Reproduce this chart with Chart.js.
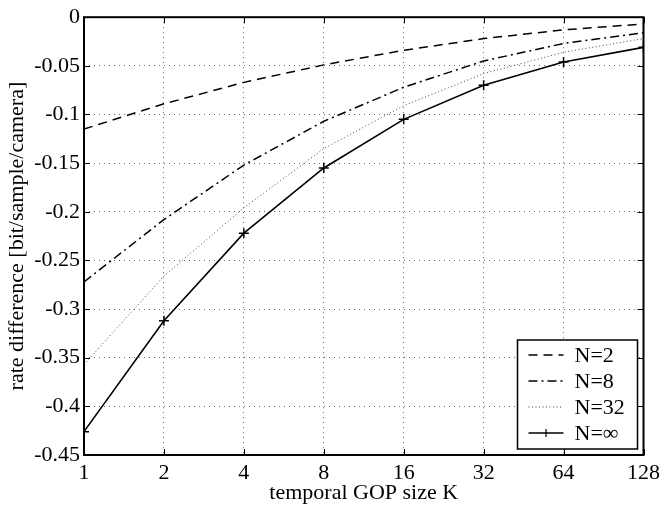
<!DOCTYPE html>
<html>
<head>
<meta charset="utf-8">
<script src="https://cdn.jsdelivr.net/npm/chart.js@4.4.1/dist/chart.umd.min.js"></script>
<style>
  html, body { margin: 0; padding: 0; background: #fff; }
  #wrap { width: 665px; height: 506px; }
</style>
</head>
<body>
<div id="wrap"><canvas id="rateChart" width="665" height="506"></canvas></div>
<script>
// temporal GOP size K
const gopSizes = [1, 2, 4, 8, 16, 32, 64, 128];
const yTicks = [0, -0.05, -0.1, -0.15, -0.2, -0.25, -0.3, -0.35, -0.4, -0.45];

// rate difference per N
const rateN2 = [-0.115, -0.089, -0.067, -0.049, -0.034, -0.022, -0.013, -0.007];
const rateN8 = [-0.272, -0.208, -0.152, -0.107, -0.072, -0.045, -0.027, -0.016];
const rateN32 = [-0.357, -0.266, -0.196, -0.135, -0.091, -0.058, -0.036, -0.022];
const rateNinf = [-0.426, -0.312, -0.222, -0.155, -0.105, -0.070, -0.046, -0.031];

const labels = ['N=2', 'N=8', 'N=32', 'N=\u221e'];
const FONT = '"Liberation Serif", "Times New Roman", serif';

function series(vals) {
    return gopSizes.map(function (k, i) { return { x: k, y: vals[i] }; });
}

// box around plot + inward ticks
const framePlugin = {
    id: 'frame',
    afterDraw(chart) {
        const a = chart.chartArea, ctx = chart.ctx;
        const xs = chart.scales.x, ys = chart.scales.y;
        ctx.save();
        ctx.strokeStyle = '#000';
        ctx.lineWidth = 1;
        gopSizes.forEach(function (k) {
            const px = Math.round(xs.getPixelForValue(k)) + 0.5;
            ctx.beginPath();
            ctx.moveTo(px, a.bottom); ctx.lineTo(px, a.bottom - 6);
            ctx.moveTo(px, a.top); ctx.lineTo(px, a.top + 6);
            ctx.stroke();
        });
        yTicks.forEach(function (v) {
            const py = Math.round(ys.getPixelForValue(v)) + 0.5;
            ctx.beginPath();
            ctx.moveTo(a.left, py); ctx.lineTo(a.left + 6, py);
            ctx.moveTo(a.right, py); ctx.lineTo(a.right - 6, py);
            ctx.stroke();
        });
        ctx.lineWidth = 2;
        ctx.strokeRect(a.left, a.top, a.right - a.left, a.bottom - a.top);
        ctx.restore();
    }
};

// legend box in the lower right corner
const boxLegend = {
    id: 'boxLegend',
    afterDraw(chart) {
        const a = chart.chartArea, ctx = chart.ctx;
        const w = 120, h = 109;
        const x0 = a.right - 6 - w, y0 = a.bottom - 6 - h;
        ctx.save();
        ctx.fillStyle = '#fff';
        ctx.fillRect(x0, y0, w, h);
        ctx.strokeStyle = '#000';
        ctx.lineWidth = 1.5;
        ctx.strokeRect(x0, y0, w, h);
        ctx.font = '22px ' + FONT;
        ctx.textBaseline = 'middle';
        chart.data.datasets.forEach(function (ds, i) {
            const y = y0 + 15 + i * 26;
            ctx.strokeStyle = ds.borderColor;
            ctx.lineWidth = ds.borderWidth;
            ctx.setLineDash(ds.borderDash || []);
            ctx.beginPath();
            ctx.moveTo(x0 + 11, y); ctx.lineTo(x0 + 46, y);
            ctx.stroke();
            ctx.setLineDash([]);
            if (ds.pointRadius > 0) {
                const cx = x0 + 28.5;
                ctx.lineWidth = 1.2;
                ctx.beginPath();
                ctx.moveTo(cx, y - 4); ctx.lineTo(cx, y + 4);
                ctx.stroke();
            }
            ctx.fillStyle = '#000';
            ctx.fillText(ds.label, x0 + 57, y + 1);
        });
        ctx.restore();
    }
};

const ctx = document.getElementById('rateChart').getContext('2d');
new Chart(ctx, {
    type: 'line',
    data: {
        datasets: [
            { label: labels[0], data: series(rateN2), borderColor: '#000', borderWidth: 1.5, borderDash: [9, 6], pointRadius: 0 },
            { label: labels[1], data: series(rateN8), borderColor: '#000', borderWidth: 1.5, borderDash: [9, 4, 2, 4], pointRadius: 0 },
            { label: labels[2], data: series(rateN32), borderColor: '#444', borderWidth: 1, borderDash: [1, 2.5], pointRadius: 0 },
            { label: labels[3], data: series(rateNinf), borderColor: '#000', borderWidth: 1.6, pointRadius: 5, pointStyle: 'cross', pointBorderWidth: 1.5, pointBorderColor: '#000' }
        ]
    },
    options: {
        responsive: false,
        animation: false,
        layout: { padding: { top: 13, right: 18, left: 4, bottom: 0 } },
        plugins: {
            legend: { display: false },
            tooltip: { enabled: false }
        },
        scales: {
            x: {
                type: 'logarithmic',
                min: 1,
                max: 128,
                afterBuildTicks: function (scale) {
                    scale.ticks = gopSizes.map(function (v) { return { value: v }; });
                },
                afterFit: function (scale) { scale.height = 51; },
                grid: { color: '#666', lineWidth: 1, drawTicks: false },
                border: { display: false, dash: [1, 4] },
                ticks: {
                    autoSkip: false,
                    maxRotation: 0,
                    padding: 5,
                    color: '#000',
                    font: { family: FONT, size: 22 },
                    callback: function (v) { return String(v); }
                },
                title: {
                    display: true,
                    text: 'temporal GOP size K',
                    color: '#000',
                    font: { family: FONT, size: 22 },
                    padding: { top: 0, bottom: 0 }
                }
            },
            y: {
                min: -0.45,
                max: 0,
                afterBuildTicks: function (scale) {
                    scale.ticks = yTicks.map(function (v) { return { value: v }; });
                },
                afterFit: function (scale) { scale.width = 80; },
                grid: { color: '#666', lineWidth: 1, drawTicks: false },
                border: { display: false, dash: [1, 4] },
                ticks: {
                    padding: 4,
                    color: '#000',
                    font: { family: FONT, size: 22 },
                    callback: function (v) { return String(parseFloat(v.toFixed(2))); }
                },
                title: {
                    display: true,
                    text: 'rate difference [bit/sample/camera]',
                    color: '#000',
                    font: { family: FONT, size: 22 },
                    padding: { top: 0, bottom: 0 }
                }
            }
        }
    },
    plugins: [framePlugin, boxLegend]
});
</script>
</body>
</html>
